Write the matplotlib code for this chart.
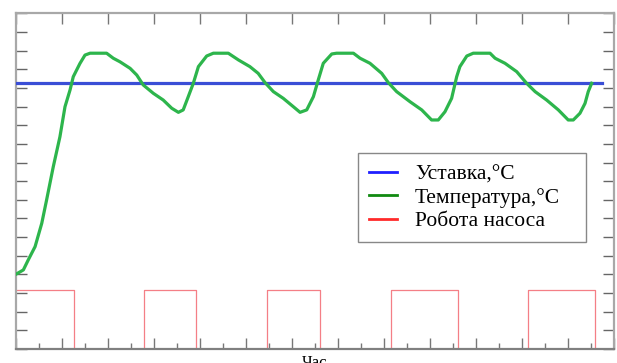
import matplotlib
matplotlib.use("Agg")
import matplotlib.pyplot as plt
from matplotlib.lines import Line2D
from matplotlib.ticker import MultipleLocator

# ---- data ----
time_h = [0.00, 0.32, 0.53, 0.83, 1.12, 1.33, 1.62, 1.91, 2.13, 2.35, 2.49, 2.78,
          3.00, 3.22, 3.94, 4.23, 4.52, 4.96, 5.25, 5.53, 5.97, 6.40, 6.77, 7.06,
          7.27, 7.49, 7.71, 7.93, 8.29, 8.58, 9.23, 9.67, 10.17, 10.53, 10.83, 11.19,
          11.62, 12.06, 12.35, 12.64, 12.93, 13.14, 13.36, 13.73, 13.94, 14.67, 14.96,
          15.39, 15.90, 16.19, 16.55, 17.13, 17.64, 18.07, 18.36, 18.65, 18.94, 19.16,
          19.30, 19.60, 19.88, 20.61, 20.83, 21.26, 21.77, 22.20, 22.57, 23.07, 23.58,
          24.01, 24.23, 24.52, 24.74, 24.88, 25.03]
temperature = [4.01, 4.24, 4.77, 5.49, 6.74, 7.99, 9.77, 11.38, 12.99, 13.89, 14.60, 15.31,
               15.76, 15.86, 15.86, 15.59, 15.40, 15.05, 14.69, 14.16, 13.71, 13.35, 12.91, 12.69,
               12.82, 13.53, 14.25, 15.14, 15.71, 15.86, 15.86, 15.50, 15.14, 14.78, 14.28, 13.80,
               13.44, 12.99, 12.69, 12.82, 13.53, 14.42, 15.32, 15.82, 15.86, 15.86, 15.59,
               15.32, 14.78, 14.28, 13.80, 13.26, 12.82, 12.28, 12.28, 12.72, 13.44, 14.60,
               15.14, 15.71, 15.86, 15.86, 15.59, 15.32, 14.87, 14.25, 13.80, 13.35, 12.82,
               12.28, 12.28, 12.64, 13.17, 13.80, 14.25]

setpoint_t = [0.0, 25.47]
setpoint = [14.25, 14.25]

pump_t = [0.00, 2.51, 5.58, 7.81, 10.93, 13.20, 16.29, 19.20, 22.27, 25.17, 26.00]
pump_state = [3.16, 0, 3.16, 0, 3.16, 0, 3.16, 0, 3.16, 0, 0]

labels = ["Уставка,°C", "Температура,°C", "Робота насоса"]
xlabel = "Час"

# ---- figure ----
fig = plt.figure(figsize=(6.17, 3.63), dpi=100)
ax = fig.add_axes([16 / 617, 14 / 363, 598 / 617, 335.7 / 363])

ax.plot(pump_t, pump_state, drawstyle="steps-post", color="#f47f86", lw=0.9, zorder=2)
ax.plot(setpoint_t, setpoint, color="#3a4ed6", lw=2.3, zorder=3)
ax.plot(time_h, temperature, color="#2db54c", lw=2.3, zorder=4)

ax.set_xlim(0, 26)
ax.set_ylim(0, 18)

ax.xaxis.set_major_locator(MultipleLocator(2))
ax.xaxis.set_minor_locator(MultipleLocator(1))
ax.yaxis.set_major_locator(MultipleLocator(1))
ax.tick_params(axis="x", which="both", direction="in", bottom=True, top=False,
               labelbottom=False, length=4, width=1, color="#777777")
ax.tick_params(axis="x", which="major", top=True, length=8)
ax.tick_params(axis="x", which="minor", top=False)
ax.tick_params(axis="y", which="both", direction="in", left=True, right=True,
               labelleft=False, length=8, width=1, color="#666666")

for side in ["left", "right", "top"]:
    ax.spines[side].set_color("#a8a8a8")
    ax.spines[side].set_linewidth(1.6)
ax.spines["bottom"].set_color("#808080")
ax.spines["bottom"].set_linewidth(1.6)

ax.set_xlabel(xlabel, family="Liberation Serif", fontsize=12, labelpad=4)

handles = [Line2D([], [], color="#1f1fff", lw=2),
           Line2D([], [], color="#118a11", lw=2),
           Line2D([], [], color="#ff2a2a", lw=2)]
x0 = (358 - 16) / 598
y_top = (349 - 153.3) / 335.7
y_bot = (349 - 243.3) / 335.7
w = (586 - 358) / 598
leg = ax.legend(handles, labels, loc="upper left", mode="expand",
                bbox_to_anchor=(x0, y_bot, w, y_top - y_bot),
                borderaxespad=0, prop={"family": "Liberation Serif", "size": 15.5},
                frameon=True, fancybox=False, shadow=False, framealpha=1,
                edgecolor="#888888", handlelength=1.3, handletextpad=0.85,
                labelspacing=0.16, borderpad=0.5)
leg.get_frame().set_linewidth(1.0)

fig.savefig("out.png", dpi=100)
